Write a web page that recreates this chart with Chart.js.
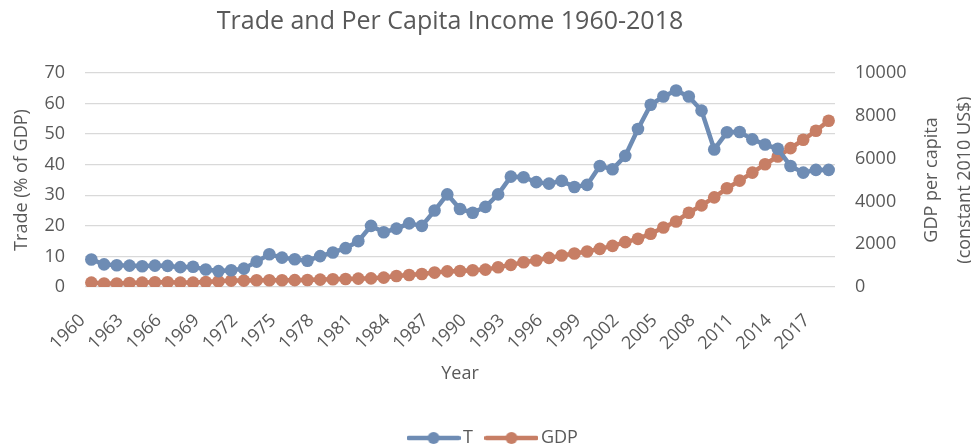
<!DOCTYPE html>
<html>
<head>
<meta charset="utf-8">
<script src="https://cdn.jsdelivr.net/npm/chart.js@4.4.1/dist/chart.umd.min.js"></script>
<style>
  html, body { margin: 0; padding: 0; background: #ffffff; }
  #wrap { width: 971px; height: 447px; }
</style>
</head>
<body>
<div id="wrap"><canvas id="tradeChart" width="971" height="447"></canvas></div>
<script>
const YEARS = [
    "1960","1961","1962","1963","1964","1965","1966","1967","1968","1969",
    "1970","1971","1972","1973","1974","1975","1976","1977","1978","1979",
    "1980","1981","1982","1983","1984","1985","1986","1987","1988","1989",
    "1990","1991","1992","1993","1994","1995","1996","1997","1998","1999",
    "2000","2001","2002","2003","2004","2005","2006","2007","2008","2009",
    "2010","2011","2012","2013","2014","2015","2016","2017","2018"
];

// Trade (% of GDP)
const TRADE = [
    9.0, 7.4, 7.1, 7.0, 6.8, 7.0, 6.9, 6.5, 6.6, 5.7,
    5.2, 5.5, 6.0, 8.3, 10.7, 9.6, 9.1, 8.6, 10.1, 11.3,
    12.7, 15.0, 20.0, 17.9, 19.1, 20.8, 20.0, 25.0, 30.3, 25.5,
    24.3, 26.2, 30.3, 36.1, 35.9, 34.3, 33.8, 34.7, 32.7, 33.4,
    39.6, 38.5, 42.9, 51.7, 59.6, 62.3, 64.3, 62.3, 57.7, 45.0,
    50.6, 50.7, 48.3, 46.6, 45.2, 39.6, 37.4, 38.3, 38.3
];

// GDP per capita (constant 2010 US$)
const GDP = [
    206, 160, 160, 190, 206, 220, 220, 206, 206, 235,
    267, 300, 300, 314, 314, 314, 320, 330, 345, 360,
    375, 390, 405, 440, 515, 563, 610, 674, 730, 750,
    782, 813, 923, 1032, 1157, 1235, 1360, 1470, 1564, 1658,
    1783, 1923, 2095, 2251, 2486, 2783, 3064, 3470, 3814, 4189,
    4611, 4971, 5346, 5737, 6097, 6488, 6879, 7301, 7770
];

const LEFT_TICKS_MAX = 70;
const RIGHT_TICKS_MAX = 10000;
const RIGHT_TITLE = ["GDP per capita", "(constant 2010 US$)"];

const BLUE = "#6e8cb4";
const ORANGE = "#c77e65";
const TEXT = "#595959";
const GRID = "#d9d9d9";
const FONT = "'Open Sans', 'DejaVu Sans', sans-serif";

Chart.defaults.font.family = FONT;
Chart.defaults.color = TEXT;

/**
 * small line + dot picture for the legend
 */
function legendSwatch(color){
    let c = document.createElement("canvas");
    c.width = 54;
    c.height = 16;
    let ctx = c.getContext("2d");
    ctx.strokeStyle = color;
    ctx.lineWidth = 4.5;
    ctx.lineCap = "round";
    ctx.beginPath();
    ctx.moveTo(2, 8);
    ctx.lineTo(52, 8);
    ctx.stroke();
    ctx.fillStyle = color;
    ctx.beginPath();
    ctx.arc(27, 8, 6, 0, Math.PI * 2);
    ctx.fill();
    return c;
}

const swatches = [legendSwatch(BLUE), legendSwatch(ORANGE)];

// nudge title and legend sideways like the original layout
const shiftPlugin = {
    id: "shiftBoxes",
    afterLayout(chart){
        if (chart.titleBlock){
            chart.titleBlock.left -= 10;
            chart.titleBlock.right -= 10;
        }
        if (chart.legend){
            chart.legend.left += 10;
            chart.legend.right += 10;
        }
    }
};

// right axis title reads bottom-to-top, Chart.js would rotate it the other way
const rightTitlePlugin = {
    id: "rightTitle",
    afterDraw(chart){
        let ctx = chart.ctx;
        let area = chart.chartArea;
        let cy = (area.top + area.bottom) / 2;
        let xs = [932, 965];
        ctx.save();
        ctx.fillStyle = TEXT;
        ctx.font = "18px " + FONT;
        ctx.textAlign = "center";
        ctx.textBaseline = "middle";
        RIGHT_TITLE.forEach(function(line, i){
            ctx.save();
            ctx.translate(xs[i], cy);
            ctx.rotate(-Math.PI / 2);
            ctx.fillText(line, 0, 0);
            ctx.restore();
        });
        ctx.restore();
    }
};

const config = {
    type: "line",
    data: {
        labels: YEARS,
        datasets: [
            {
                label: "T",
                data: TRADE,
                yAxisID: "y",
                borderColor: BLUE,
                backgroundColor: BLUE,
                borderWidth: 4.5,
                pointRadius: 6.3,
                pointHoverRadius: 6.3,
                pointBorderWidth: 0,
                tension: 0
            },
            {
                label: "GDP",
                data: GDP,
                yAxisID: "y1",
                borderColor: ORANGE,
                backgroundColor: ORANGE,
                borderWidth: 4.5,
                pointRadius: 6.3,
                pointHoverRadius: 6.3,
                pointBorderWidth: 0,
                tension: 0
            }
        ]
    },
    options: {
        responsive: false,
        animation: false,
        events: [],
        layout: { padding: { top: 0, left: 0, right: 0, bottom: -10 } },
        scales: {
            x: {
                offset: true,
                grid: { display: false },
                border: { display: false },
                ticks: {
                    autoSkip: false,
                    maxRotation: 45,
                    minRotation: 45,
                    padding: 15,
                    labelOffset: -9,
                    font: { size: 18 },
                    callback: function(value, index){
                        return index % 3 === 0 ? this.getLabelForValue(value) : "";
                    }
                },
                title: {
                    display: true,
                    text: "Year",
                    font: { size: 18 },
                    padding: { top: 0, bottom: 26 }
                },
                afterFit: function(scale){ scale.height = 124; }
            },
            y: {
                position: "left",
                min: 0,
                max: LEFT_TICKS_MAX,
                grid: { color: GRID, lineWidth: 1.3, drawTicks: false },
                border: { display: false },
                ticks: { stepSize: 10, padding: 20, font: { size: 18 } },
                title: {
                    display: true,
                    text: "Trade (% of GDP)",
                    font: { size: 18 },
                    padding: { top: 11, bottom: 0 }
                },
                afterFit: function(scale){ scale.width = 85; }
            },
            y1: {
                position: "right",
                min: 0,
                max: RIGHT_TICKS_MAX,
                grid: { drawOnChartArea: false, drawTicks: false },
                border: { display: false },
                ticks: {
                    stepSize: 2000,
                    padding: 20,
                    font: { size: 18 },
                    callback: function(value){ return String(value); }
                },
                afterFit: function(scale){ scale.width = 136; }
            }
        },
        plugins: {
            title: {
                display: true,
                fullSize: false,
                text: "Trade and Per Capita Income 1960-2018",
                color: TEXT,
                font: { size: 25, weight: "normal" },
                padding: { top: 7, bottom: 36 }
            },
            legend: {
                position: "bottom",
                labels: {
                    usePointStyle: true,
                    pointStyleWidth: 41,
                    padding: 18,
                    font: { size: 18 },
                    color: TEXT,
                    generateLabels: function(chart){
                        let items = Chart.defaults.plugins.legend.labels.generateLabels(chart);
                        items.forEach(function(item, i){ item.pointStyle = swatches[i]; });
                        return items;
                    }
                }
            },
            tooltip: { enabled: false }
        }
    },
    plugins: [shiftPlugin, rightTitlePlugin]
};

new Chart(document.getElementById("tradeChart").getContext("2d"), config);
</script>
</body>
</html>
